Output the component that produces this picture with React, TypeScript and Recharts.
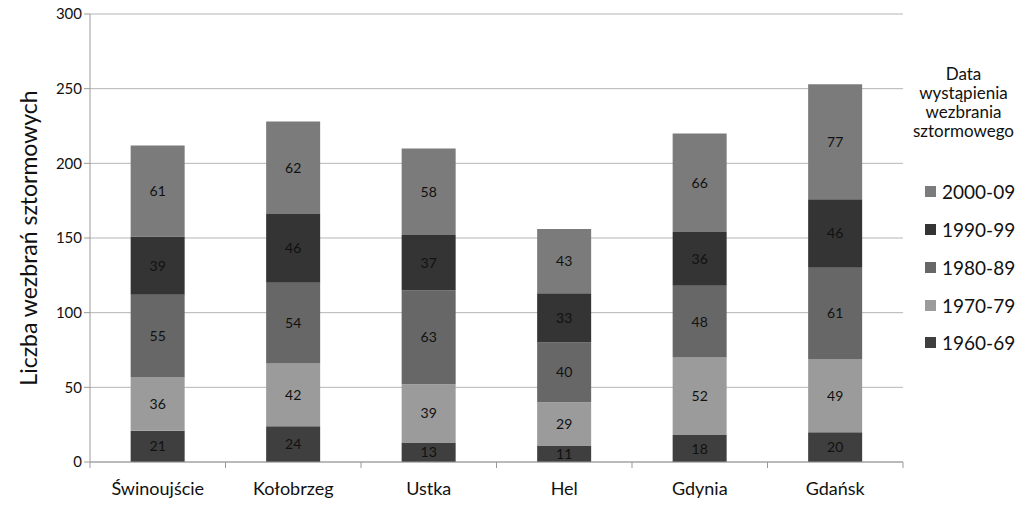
import * as React from 'react';
import { Bar, BarChart, CartesianGrid, LabelList, XAxis, YAxis } from 'recharts';

const cities = ['Świnoujście', 'Kołobrzeg', 'Ustka', 'Hel', 'Gdynia', 'Gdańsk'];
const d1960 = [21, 24, 13, 11, 18, 20];
const d1970 = [36, 42, 39, 29, 52, 49];
const d1980 = [55, 54, 63, 40, 48, 61];
const d1990 = [39, 46, 37, 33, 36, 46];
const d2000 = [61, 62, 58, 43, 66, 77];
const yTicks = [0, 50, 100, 150, 200, 250, 300];

const series = [
  { key: 'd1960', name: '1960-69', color: '#3f3f3f' },
  { key: 'd1970', name: '1970-79', color: '#9b9b9b' },
  { key: 'd1980', name: '1980-89', color: '#676767' },
  { key: 'd1990', name: '1990-99', color: '#343434' },
  { key: 'd2000', name: '2000-09', color: '#7b7b7b' },
];

const data = cities.map((city, i) => ({
  city,
  d1960: d1960[i],
  d1970: d1970[i],
  d1980: d1980[i],
  d1990: d1990[i],
  d2000: d2000[i],
}));

const W = 1024;
const H = 511;
const M = { top: 14, right: 121, left: 0, bottom: 0 };
const Y_W = 90;
const HALF_BAND = (W - M.right - Y_W) / cities.length / 2;
const FONT = 'Lato, "Open Sans", sans-serif';
const AXIS = '#9a9a9a';

function CityTick(props: any) {
  const { x, y, payload, index } = props;
  return (
    <g>
      <line x1={x - HALF_BAND} x2={x - HALF_BAND} y1={y - 8} y2={y - 2} stroke={AXIS} />
      {index === cities.length - 1 && (
        <line x1={x + HALF_BAND} x2={x + HALF_BAND} y1={y - 8} y2={y - 2} stroke={AXIS} />
      )}
      <text x={x} y={y + 25} textAnchor="middle" fontSize={18} fill="#111" fontFamily={FONT}>
        {payload.value}
      </text>
    </g>
  );
}

function LegendBox() {
  return (
    <div
      style={{ position: 'absolute', left: 903, top: 64, width: 121, fontFamily: FONT, color: '#111' }}
    >
      <div style={{ textAlign: 'center', fontSize: 17, lineHeight: '19px' }}>
        Data
        <br />
        wystąpienia
        <br />
        wezbrania
        <br />
        sztormowego
      </div>
      <div style={{ marginTop: 33, paddingLeft: 22 }}>
        {[...series].reverse().map((s) => (
          <div
            key={s.key}
            style={{ display: 'flex', alignItems: 'center', height: 37.75, fontSize: 19 }}
          >
            <span
              style={{ display: 'inline-block', width: 11, height: 11, background: s.color, marginRight: 6 }}
            />
            {s.name}
          </div>
        ))}
      </div>
    </div>
  );
}

export default function App() {
  return (
    <div style={{ position: 'absolute', left: 0, top: 0, width: W, height: H, background: '#fff' }}>
      <BarChart width={W} height={H} data={data} margin={M} barCategoryGap="30%">
        <CartesianGrid vertical={false} stroke="#b5b5b5" />
        <XAxis
          dataKey="city"
          stroke={AXIS}
          tickLine={false}
          tick={<CityTick />}
          height={49}
          interval={0}
        />
        <YAxis
          width={Y_W}
          domain={[0, 300]}
          ticks={yTicks}
          stroke={AXIS}
          tickSize={6}
          tick={{ fontSize: 15, fill: '#111', fontFamily: FONT }}
          label={{
            value: 'Liczba wezbrań sztormowych',
            angle: -90,
            position: 'insideLeft',
            dx: 24,
            dy: 0,
            style: { fontSize: 23, fill: '#111', fontFamily: FONT, textAnchor: 'middle' },
          }}
        />
        <YAxis yAxisId="r" orientation="right" width={0} stroke={AXIS} tick={false} tickLine={false} />
        {series.map((s) => (
          <Bar
            key={s.key}
            dataKey={s.key}
            name={s.name}
            stackId="a"
            fill={s.color}
            isAnimationActive={false}
          >
            <LabelList
              dataKey={s.key}
              position="center"
              fill="#111"
              fontSize={14}
              fontFamily={FONT}
            />
          </Bar>
        ))}
      </BarChart>
      <LegendBox />
    </div>
  );
}
